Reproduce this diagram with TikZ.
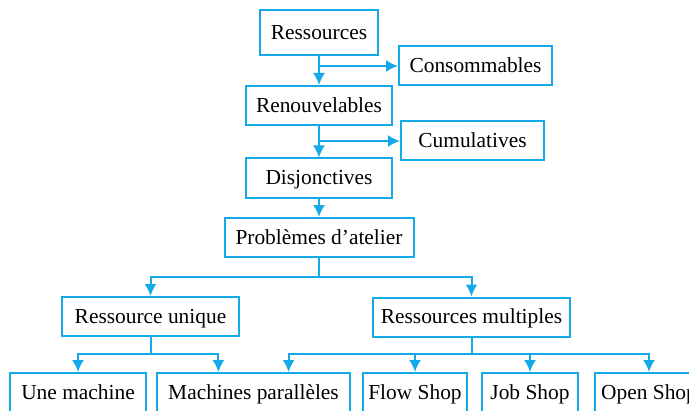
\documentclass[tikz,border=0pt]{standalone}
\usepackage{fontspec}
\setmainfont{Liberation Serif}
\usetikzlibrary{arrows.meta, calc}
\definecolor{lineblue}{RGB}{20,170,232}

\begin{document}
\begin{tikzpicture}[
    x=0.5pt, y=-0.5pt,
    box/.style={rectangle, draw=lineblue, line width=1pt, minimum height=19.5pt, inner sep=0pt, text height=0.9em, text depth=0.24em, font=\fontsize{10.7}{12}\selectfont},
    line/.style={draw=lineblue, line width=1pt, -{Latex[length=6pt,width=6pt]}}
]
\useasboundingbox (0,0) rectangle (689,411);

\node [box, minimum width=59pt, minimum height=22.5pt] (res) at (319,32.5) {Ressources};
\node [box, minimum width=76.5pt] (cons) at (475.5,66) {Consommables};
\node [box, minimum width=73pt] (renouv) at (319,105.5) {Renouvelables};
\node [box, minimum width=71.5pt] (cumul) at (472.5,141) {Cumulatives};
\node [box, minimum width=73pt] (disj) at (319,178) {Disjonctives};
\node [box, minimum width=94.5pt] (prob) at (319,237.5) {Problèmes d’atelier};
\node [box, minimum width=88.5pt] (unique) at (150.5,316.5) {Ressource unique};
\node [box, minimum width=98.5pt] (multi) at (471.5,317) {Ressources multiples};
\node [box, minimum width=68pt] (machine) at (78,392.5) {Une machine};
\node [box, minimum width=96.5pt] (paral) at (253.5,392.5) {Machines parallèles};
\node [box, minimum width=52pt] (flow) at (415,392.5) {Flow Shop};
\node [box, minimum width=48pt] (job) at (530,392.5) {Job Shop};
\node [box, minimum width=54pt] (open) at (649,392.5) {Open Shop};

\coordinate (split1) at (319,277);
\coordinate (split2) at (150.5,354);
\coordinate (split3) at (472,354);

\path [line] (res.south) -- (renouv.north);
\path [line] (res.south |- cons.west) -- (cons.west);
\path [line] (renouv.south) -- (disj.north);
\path [line] (renouv.south |- cumul.west) -- (cumul.west);
\path [line] (disj.south) -- (prob.north);
\path [draw=lineblue, line width=1pt] (prob.south) -- (split1);
\path [line] (split1) -| (unique.north);
\path [line] (split1) -| (multi.north);
\path [draw=lineblue, line width=1pt] (unique.south) -- (split2);
\path [line] (split2) -| (machine.north);
\path [line] (split2) -| ($(paral.north west)!0.32!(paral.north east)$);
\path [draw=lineblue, line width=1pt] (split3 |- multi.south) -- (split3);
\path [line] (split3) -| ($(paral.north west)!0.68!(paral.north east)$);
\path [line] (split3) -| (flow.north);
\path [line] (split3) -| (job.north);
\path [line] (split3) -| (open.north);
\end{tikzpicture}
\end{document}
